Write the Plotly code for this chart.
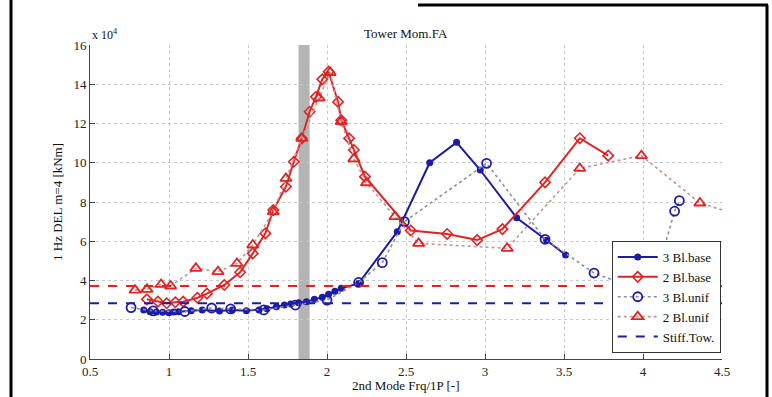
import plotly.graph_objects as go

# ---------------- data ----------------
blue_base_x = [0.84, 0.88, 0.92, 0.96, 1.0, 1.03, 1.06, 1.14, 1.21, 1.32, 1.40, 1.49, 1.57, 1.62,
               1.68, 1.73, 1.77, 1.82, 1.87, 1.92, 1.97, 2.01, 2.05, 2.09, 2.20, 2.445, 2.65, 2.82,
               2.97, 3.20, 3.39, 3.51]
blue_base_y = [2.50, 2.41, 2.39, 2.38, 2.36, 2.39, 2.41, 2.46, 2.50, 2.45, 2.50, 2.46, 2.50, 2.56,
               2.66, 2.75, 2.80, 2.87, 2.92, 3.04, 3.15, 3.30, 3.45, 3.60, 3.85, 6.49, 10.0, 11.04,
               9.63, 7.20, 6.05, 5.30]

red_base_x = [0.86, 0.93, 0.985, 1.04, 1.09, 1.18, 1.24, 1.35, 1.45, 1.53, 1.61, 1.66, 1.74, 1.79,
              1.84, 1.89, 1.93, 1.97, 2.01, 2.07, 2.09, 2.14, 2.17, 2.24, 2.53, 2.76, 2.95, 3.11,
              3.38, 3.60, 3.78]
red_base_y = [3.04, 2.92, 2.84, 2.89, 2.92, 3.12, 3.33, 3.77, 4.42, 5.38, 6.40, 7.59, 8.78, 10.05,
              11.24, 12.60, 13.36, 14.25, 14.64, 13.10, 12.17, 11.24, 10.65, 9.29, 6.55, 6.37, 6.06,
              6.62, 9.00, 11.25, 10.36]

blue_unif_x = [0.76, 0.90, 1.10, 1.27, 1.39, 1.60, 1.80, 2.00, 2.20, 2.35, 2.49, 3.01, 3.38, 3.69,
               4.05, 4.20, 4.23]
blue_unif_y = [2.62, 2.45, 2.42, 2.60, 2.55, 2.50, 2.75, 3.00, 3.90, 4.91, 7.00, 9.97, 6.10, 4.38,
               3.30, 7.53, 8.07]

red_unif_x = [0.785, 0.86, 0.95, 1.01, 1.17, 1.31, 1.43, 1.53, 1.66, 1.74, 1.84, 1.95, 2.02, 2.09,
              2.17, 2.25, 2.43, 2.58, 3.14, 3.60, 3.99, 4.36, 4.60]
red_unif_y = [3.51, 3.55, 3.80, 3.72, 4.62, 4.45, 4.87, 5.81, 7.50, 9.20, 11.24, 13.30, 14.60, 12.10,
              10.20, 8.98, 7.25, 5.89, 5.64, 9.71, 10.36, 7.95, 7.35]

stiff_levels = [2.84, 3.72]          # 3 Bl / 2 Bl stiff tower
band_x = [1.82, 1.89]                # grey band
x_range = [0.5, 4.5]
y_range = [0, 16]
x_ticks = [0.5, 1, 1.5, 2, 2.5, 3, 3.5, 4, 4.5]
x_tick_labels = ["0.5", "1", "1.5", "2", "2.5", "3", "3.5", "4", "4.5"]
y_ticks = [0, 2, 4, 6, 8, 10, 12, 14, 16]

BLUE = "#1c1ca8"
RED = "#e02424"
FONT = "Liberation Serif"

fig = go.Figure()

fig.add_trace(go.Scatter(
    x=blue_base_x, y=blue_base_y, mode="lines+markers", name="3 Bl.base",
    line=dict(color=BLUE, width=2),
    marker=dict(symbol="circle", size=7, color=BLUE)))
fig.add_trace(go.Scatter(
    x=red_base_x, y=red_base_y, mode="lines+markers", name="2 Bl.base",
    line=dict(color=RED, width=2),
    marker=dict(symbol="diamond-open", size=8, color=RED, line=dict(width=1.6, color=RED))))
fig.add_trace(go.Scatter(
    x=blue_unif_x, y=blue_unif_y, mode="lines+markers", name="3 Bl.unif",
    line=dict(color="#8c8ca4", width=1.6, dash="dot"),
    marker=dict(symbol="circle-open", size=9, color=BLUE, line=dict(width=1.8, color=BLUE))))
fig.add_trace(go.Scatter(
    x=red_unif_x, y=red_unif_y, mode="lines+markers", name="2 Bl.unif",
    line=dict(color="#c49494", width=1.6, dash="dot"),
    marker=dict(symbol="triangle-up-open", size=10, color=RED, line=dict(width=1.8, color=RED))))
fig.add_trace(go.Scatter(
    x=x_range, y=[stiff_levels[1]] * 2, mode="lines", showlegend=False,
    line=dict(color=RED, width=2, dash="dash")))
fig.add_trace(go.Scatter(
    x=x_range, y=[stiff_levels[0]] * 2, mode="lines", name="Stiff.Tow.",
    line=dict(color=BLUE, width=2, dash="dash")))

# grey band
fig.add_shape(type="rect", xref="x", yref="paper", x0=band_x[0], x1=band_x[1], y0=0, y1=1,
              fillcolor="#b4b4b4", line=dict(width=0), layer="below")

# outer frame of the page snippet
L, R, T, B = 90, 722, 45, 359
W, H = R - L, B - T
def px(p): return (p - L) / W
def py(p): return (B - p) / H
frame = dict(color="black", width=3)
fig.add_shape(type="line", xref="paper", yref="paper", x0=px(11), x1=px(11), y0=py(0), y1=py(397), line=frame)
fig.add_shape(type="line", xref="paper", yref="paper", x0=px(418), x1=px(768), y0=py(5), y1=py(5), line=frame)
fig.add_shape(type="line", xref="paper", yref="paper", x0=px(767), x1=px(767), y0=py(5), y1=py(397), line=frame)

axis_common = dict(showgrid=True, gridcolor="#c8c8c8", griddash="dot", gridwidth=1,
                   showline=True, linecolor="#444444", linewidth=1, mirror=False,
                   ticks="inside", ticklen=5, tickcolor="#444444", zeroline=False,
                   tickfont=dict(family=FONT, size=13, color="#222222"))

fig.update_layout(
    width=772, height=397,
    margin=dict(l=L, r=772 - R, t=T, b=397 - B),
    paper_bgcolor="white", plot_bgcolor="white",
    showlegend=True,
    legend=dict(x=0.998, y=py(353), xanchor="right", yanchor="bottom",
                bgcolor="white", bordercolor="#333333", borderwidth=1,
                font=dict(family=FONT, size=13, color="#111111"),
                tracegroupgap=0, itemwidth=40),
    xaxis=dict(range=x_range, tickvals=x_ticks, ticktext=x_tick_labels, **axis_common),
    yaxis=dict(range=y_range, tickvals=y_ticks, **axis_common),
    annotations=[
        dict(text="Tower Mom.FA", x=0.5, y=py(33), xref="paper", yref="paper",
             xanchor="center", yanchor="middle",
             showarrow=False, font=dict(family=FONT, size=13, color="#111111")),
        dict(text="x 10<sup>4</sup>", x=px(90), y=py(44), xref="paper", yref="paper",
             xanchor="left", yanchor="bottom", showarrow=False,
             font=dict(family=FONT, size=12, color="#111111")),
        dict(text="2nd Mode Frq/1P [-]", x=0.5, y=py(385), xref="paper", yref="paper",
             xanchor="center", yanchor="middle",
             showarrow=False, font=dict(family=FONT, size=13, color="#111111")),
        dict(text="1 Hz DEL m=4 [kNm]", x=px(57), y=0.5, xref="paper", yref="paper",
             xanchor="center", yanchor="middle",
             textangle=-90, showarrow=False, font=dict(family=FONT, size=13, color="#111111")),
    ],
)

fig.write_html("out.html")
